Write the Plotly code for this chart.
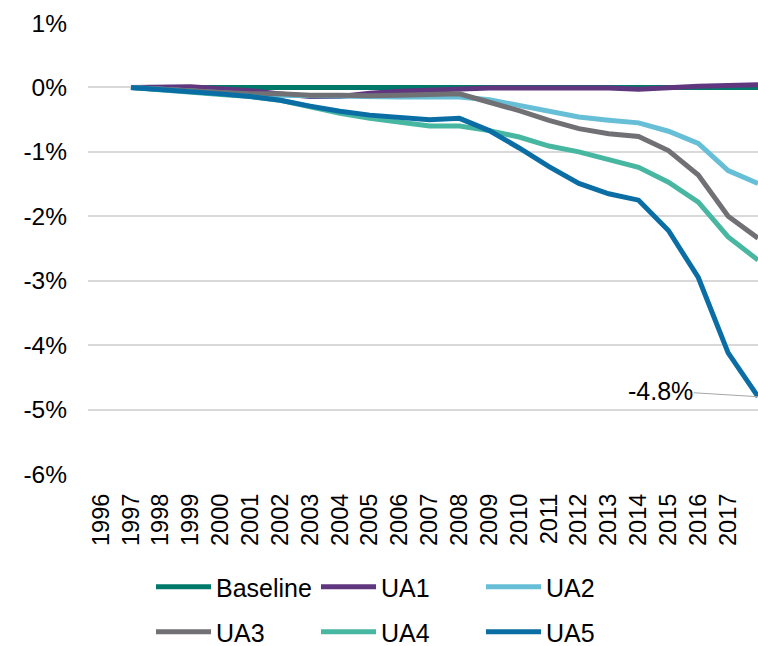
import plotly.graph_objects as go

# values (% change vs. baseline)
years = [1997, 1998, 1999, 2000, 2001, 2002, 2003, 2004, 2005, 2006, 2007,
         2008, 2009, 2010, 2011, 2012, 2013, 2014, 2015, 2016, 2017, 2018]
tick_years = [1996, 1997, 1998, 1999, 2000, 2001, 2002, 2003, 2004, 2005, 2006,
              2007, 2008, 2009, 2010, 2011, 2012, 2013, 2014, 2015, 2016, 2017]
y_ticks = [1, 0, -1, -2, -3, -4, -5, -6]

baseline = [0.00, 0.00, 0.00, 0.00, 0.00, 0.00, 0.00, 0.00, 0.00, 0.00, 0.00,
            0.00, 0.00, 0.00, 0.00, 0.00, 0.00, 0.00, 0.00, 0.00, 0.00, 0.00]
ua1 = [0.00, 0.01, 0.01, -0.02, -0.05, -0.10, -0.14, -0.14, -0.09, -0.06, -0.04,
       -0.02, -0.01, -0.01, -0.01, -0.01, -0.01, -0.03, 0.00, 0.02, 0.03, 0.04]
ua2 = [0.00, -0.03, -0.06, -0.09, -0.11, -0.12, -0.13, -0.14, -0.15, -0.15, -0.15,
       -0.15, -0.19, -0.28, -0.38, -0.46, -0.51, -0.55, -0.68, -0.87, -1.29, -1.49]
ua3 = [0.00, -0.02, -0.05, -0.08, -0.10, -0.10, -0.12, -0.12, -0.13, -0.12, -0.11,
       -0.10, -0.23, -0.36, -0.51, -0.64, -0.72, -0.76, -0.98, -1.36, -2.00, -2.34]
ua4 = [0.00, -0.04, -0.07, -0.11, -0.14, -0.20, -0.30, -0.40, -0.48, -0.54, -0.60,
       -0.60, -0.67, -0.77, -0.91, -1.00, -1.12, -1.24, -1.47, -1.78, -2.32, -2.68]
ua5 = [0.00, -0.03, -0.06, -0.10, -0.14, -0.20, -0.29, -0.37, -0.43, -0.46, -0.50,
       -0.48, -0.67, -0.94, -1.23, -1.49, -1.65, -1.75, -2.22, -2.95, -4.12, -4.80]

series_names = ["Baseline", "UA1", "UA2", "UA3", "UA4", "UA5"]
series_values = [baseline, ua1, ua2, ua3, ua4, ua5]
series_colors = ["#00796b", "#60377f", "#66bfd6", "#717075", "#48b7a2", "#0a6ea5"]
# first row of the legend holds the first three, second row the rest
series_legend = ["legend", "legend", "legend", "legend2", "legend2", "legend2"]

FONT = "Arial, 'Liberation Sans', sans-serif"
W, H = 758, 646

fig = go.Figure()

for name, vals, col, leg in zip(series_names, series_values, series_colors, series_legend):
    fig.add_trace(go.Scatter(
        x=years,
        y=vals,
        mode="lines",
        name=name,
        legend=leg,
        line=dict(color=col, width=5),
        hovertemplate="%{x}: %{y:.2f}%<extra>" + name + "</extra>",
    ))

# label on the last UA5 point
fig.add_annotation(
    x=years[-1], y=ua5[-1],
    text=f"{ua5[-1]:.1f}%",
    showarrow=True, arrowhead=0, arrowwidth=1, arrowcolor="#a6a6a6",
    ax=-98, ay=-6, standoff=0,
    font=dict(size=25, color="#000000", family=FONT),
)

legend_common = dict(
    orientation="h",
    xref="container",
    yref="container",
    xanchor="left",
    yanchor="middle",
    bgcolor="rgba(0,0,0,0)",
    font=dict(size=25, color="#000000", family=FONT),
    entrywidth=95,
    entrywidthmode="pixels",
    itemwidth=55,
    traceorder="normal",
)

fig.update_layout(
    width=W,
    height=H,
    margin=dict(l=88, r=0, t=23, b=172, autoexpand=False),
    plot_bgcolor="#ffffff",
    paper_bgcolor="#ffffff",
    font=dict(family=FONT, size=24, color="#000000"),
    showlegend=True,
    legend=dict(x=151 / W, y=1 - 587 / H, **legend_common),
    legend2=dict(x=151 / W, y=1 - 632 / H, **legend_common),
    xaxis=dict(
        range=[1995.56, 2018.0],
        tickvals=tick_years,
        ticktext=[str(y) for y in tick_years],
        tickangle=-90,
        showgrid=False,
        zeroline=False,
        showline=False,
        ticks="",
        ticklabelstandoff=14,
        tickfont=dict(size=23.5, family=FONT),
    ),
    yaxis=dict(
        range=[-6, 1],
        tickvals=y_ticks,
        ticktext=[f"{v}%" for v in y_ticks],
        showgrid=True,
        gridcolor="#d9d9d9",
        gridwidth=1.5,
        zeroline=False,
        showline=False,
        ticks="",
        ticklabelstandoff=20,
        tickfont=dict(size=24.5, family=FONT),
    ),
)

# drop the default page margin so the figure fills the window exactly
fig.write_html(
    "out.html",
    config={"displayModeBar": False},
    post_script="document.body.style.margin='0';document.body.style.overflow='hidden';",
)
